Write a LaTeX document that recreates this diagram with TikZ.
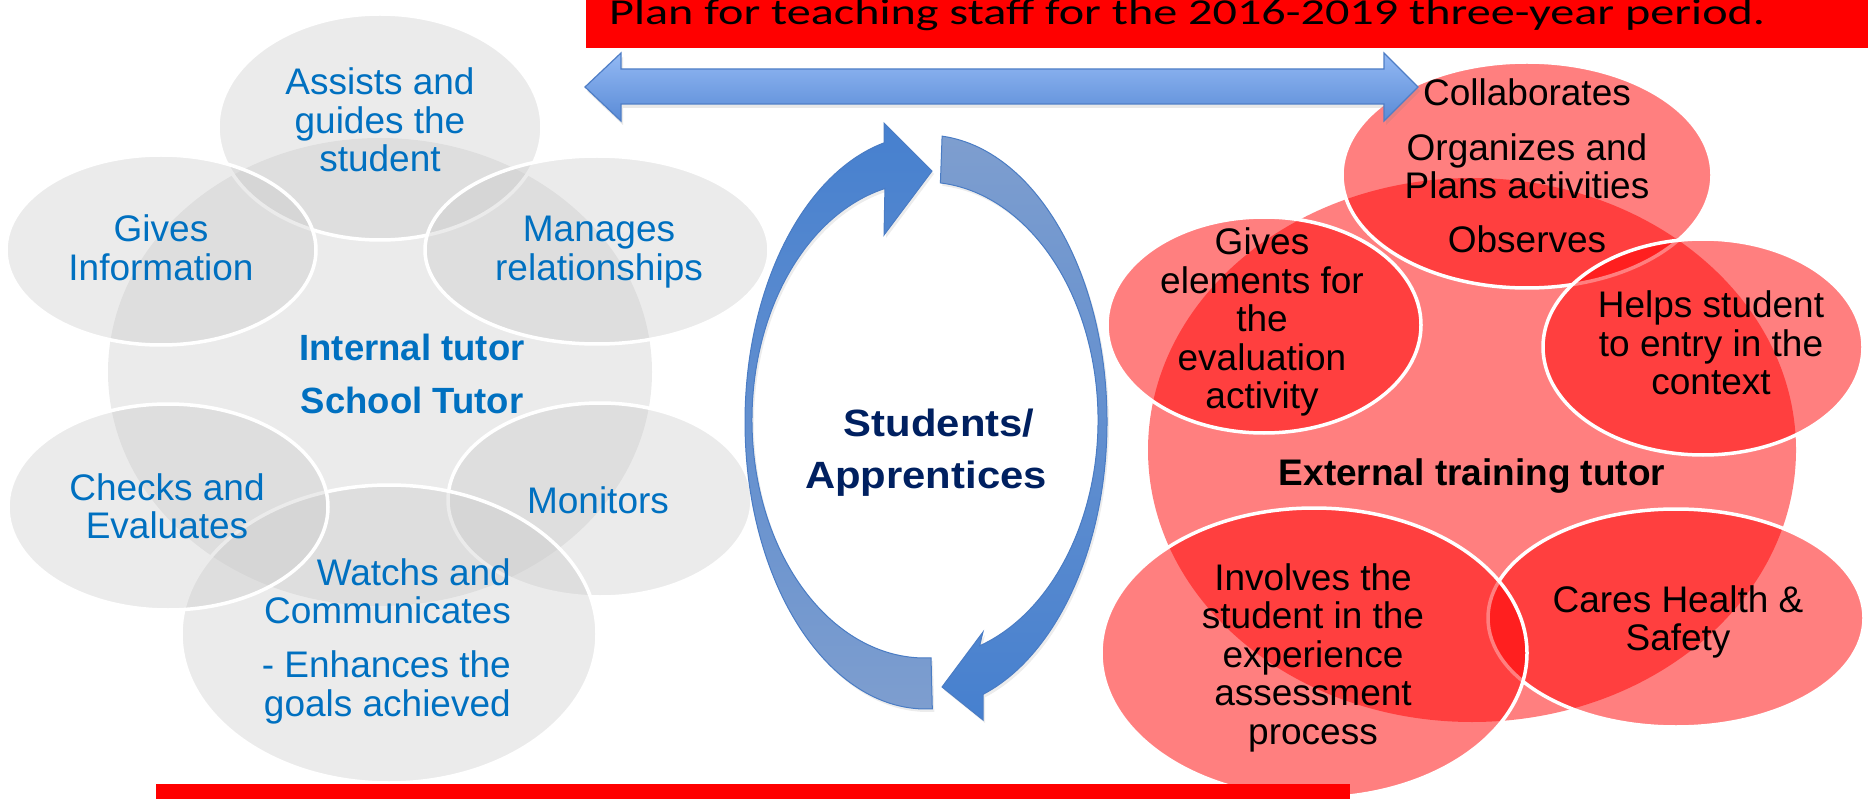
\documentclass[tikz,border=0pt]{standalone}
\usepackage{fontspec}
\usepackage{graphicx}
\setmainfont{Liberation Sans}
\newfontfamily\calib{Carlito}
\usetikzlibrary{shadows,calc}
\definecolor{tblue}{HTML}{0070C0}
\definecolor{navy}{HTML}{002060}
\definecolor{grayfill}{RGB}{198,198,198}
\definecolor{arrowline}{HTML}{4F7EC6}
\definecolor{arrtop}{HTML}{93B9F4}
\definecolor{arrbot}{HTML}{5A8BD6}
\definecolor{cdark}{HTML}{4680CF}
\definecolor{clight}{HTML}{7E9ECF}
\definecolor{cline}{HTML}{4A7CC4}
\newcommand\cblk[1]{\vtop{\halign{\hfil##\hfil\cr#1\crcr}}}
\newcommand\rblk[1]{\vtop{\halign{\hfil##\cr#1\crcr}}}
\newcommand\pgap{\noalign{\vskip14.5pt}}
\tikzset{
  gtxt/.style={text=tblue, font=\fontsize{37}{38.5}\selectfont, inner sep=0pt, anchor=base},
  gbold/.style={text=tblue, font=\bfseries\fontsize{36.5}{38.5}\selectfont, inner sep=0pt, anchor=base},
  rtxt/.style={text=black, font=\fontsize{37}{38.5}\selectfont, inner sep=0pt, anchor=base},
  rbold/.style={text=black, font=\bfseries\fontsize{37}{38.5}\selectfont, inner sep=0pt, anchor=base},
  gcirc/.style={fill=grayfill, fill opacity=0.35, draw=white, line width=3.5pt},
  rcirc/.style={fill=red, fill opacity=0.5, draw=white, line width=3.5pt},
  blockarrow/.style={draw=arrowline, line width=1.2pt, top color=arrtop, bottom color=arrbot,
    drop shadow={opacity=0.18, shadow xshift=2pt, shadow yshift=-4pt}},
  ringarrow/.style={draw=cline, line width=1pt,
    drop shadow={opacity=0.15, shadow xshift=2pt, shadow yshift=-3pt}},
}
\begin{document}
\begin{tikzpicture}[x=1pt,y=1pt]
\useasboundingbox (0,0) rectangle (1868,-799);
\clip (0,0) rectangle (1868,-799);

% ---------- left (gray) group ----------
\path[gcirc, draw=none] (380,-372) ellipse [x radius=272pt, y radius=234pt];
\path[gcirc] (380,-127) ellipse [x radius=162pt, y radius=113pt];
\path[gcirc] (161,-250) ellipse [x radius=155pt, y radius=95pt];
\path[gcirc] (597,-250) ellipse [x radius=172pt, y radius=94pt];
\path[gcirc] (600,-500) ellipse [x radius=152pt, y radius=97pt];
\path[gcirc] (389,-634) ellipse [x radius=208pt, y radius=149pt];
\path[gcirc] (168,-507) ellipse [x radius=160pt, y radius=103pt];

\node[gtxt] (assists) at (380,-95) {\cblk{Assists and\cr guides the\cr student}};
\node[gtxt] (givesinfo) at (161,-242) {\cblk{Gives\cr Information}};
\node[gtxt] (manages) at (599,-242) {\cblk{Manages\cr relationships}};
\node[gbold] (internal) at (412,-360) {\cblk{Internal tutor\cr\pgap School Tutor}};
\node[gtxt] (checks) at (167,-500) {\cblk{Checks and\cr Evaluates}};
\node[gtxt] (monitors) at (598,-513) {Monitors};
\node[gtxt, anchor=base east] (watchs) at (511,-585) {\rblk{Watchs and\cr Communicates\cr\noalign{\vskip15.5pt}- Enhances the\cr goals achieved}};

% ---------- right (red) group ----------
\path[rcirc, draw=none] (1472,-450) ellipse [x radius=324pt, y radius=272pt];
\path[rcirc] (1527,-175) ellipse [x radius=185pt, y radius=113pt];
\path[rcirc] (1264,-325) ellipse [x radius=157pt, y radius=108pt];
\path[rcirc] (1703,-347) ellipse [x radius=160pt, y radius=108pt];
\path[rcirc] (1676,-618) ellipse [x radius=188pt, y radius=109pt];
\path[rcirc] (1314,-653) ellipse [x radius=213pt, y radius=145pt];

\node[rtxt] (collab) at (1527,-106) {\cblk{Collaborates\cr\noalign{\vskip16pt}Organizes and\cr Plans activities\cr\noalign{\vskip15pt}Observes}};
\node[rtxt] (givesel) at (1262,-255) {\cblk{Gives\cr elements for\cr the\cr evaluation\cr activity}};
\node[rtxt] (helps) at (1711,-318) {\cblk{Helps student\cr to entry in the\cr context}};
\node[rbold] (external) at (1472,-485) {External training tutor};
\node[rtxt] (involves) at (1313,-590) {\cblk{Involves the\cr student in the\cr experience\cr assessment\cr process}};
\node[rtxt] (cares) at (1678,-612) {\cblk{Cares Health \&\cr Safety}};

% ---------- circular arrows ----------
\path[ringarrow, top color=cdark, bottom color=clight]
  (926,-422) ++(272:181pt and 287pt) coordinate (la)
  arc[start angle=272, end angle=103.4, x radius=181pt, y radius=287pt]
  -- (884,-123) -- (932,-171) -- (884,-235)
  -- ($(925,-420)+(103.4:173pt and 238pt)$)
  arc[start angle=103.4, end angle=272, x radius=173pt, y radius=238pt] -- cycle;
\path[ringarrow, top color=clight, bottom color=cdark]
  (926,-422) ++(84.9:181pt and 287pt) coordinate (ra)
  arc[start angle=84.9, end angle=-71.6, x radius=181pt, y radius=287pt]
  -- (983,-720) -- (942,-687) -- (983,-632)
  -- ($(925,-420)+(-71.6:173pt and 238pt)$)
  arc[start angle=-71.6, end angle=84.9, x radius=173pt, y radius=238pt] -- cycle;

\node[text=navy, font=\bfseries\fontsize{38}{52}\selectfont, inner sep=0pt, anchor=base] (students) at (926,-436)
  {\scalebox{1.1}[1]{\cblk{\kern24pt Students/\cr Apprentices}}};

% ---------- double arrow ----------
\path[blockarrow] (585,-87) -- (621,-53) -- (621,-69) -- (1384,-69) -- (1384,-53) -- (1418,-87)
  -- (1384,-121) -- (1384,-104) -- (621,-104) -- (621,-121) -- cycle;

% ---------- banners ----------
\fill[red] (586,0) rectangle (1868,-48);
\node[anchor=base west, inner sep=0pt, font=\calib\fontsize{36.5}{40}\selectfont] (title) at (609,-25)
  {\scalebox{1.32}[1]{Plan for teaching staff for the 2016-2019 three-year period.}};
\fill[red] (156,-784) rectangle (1350,-799);
\end{tikzpicture}
\end{document}
